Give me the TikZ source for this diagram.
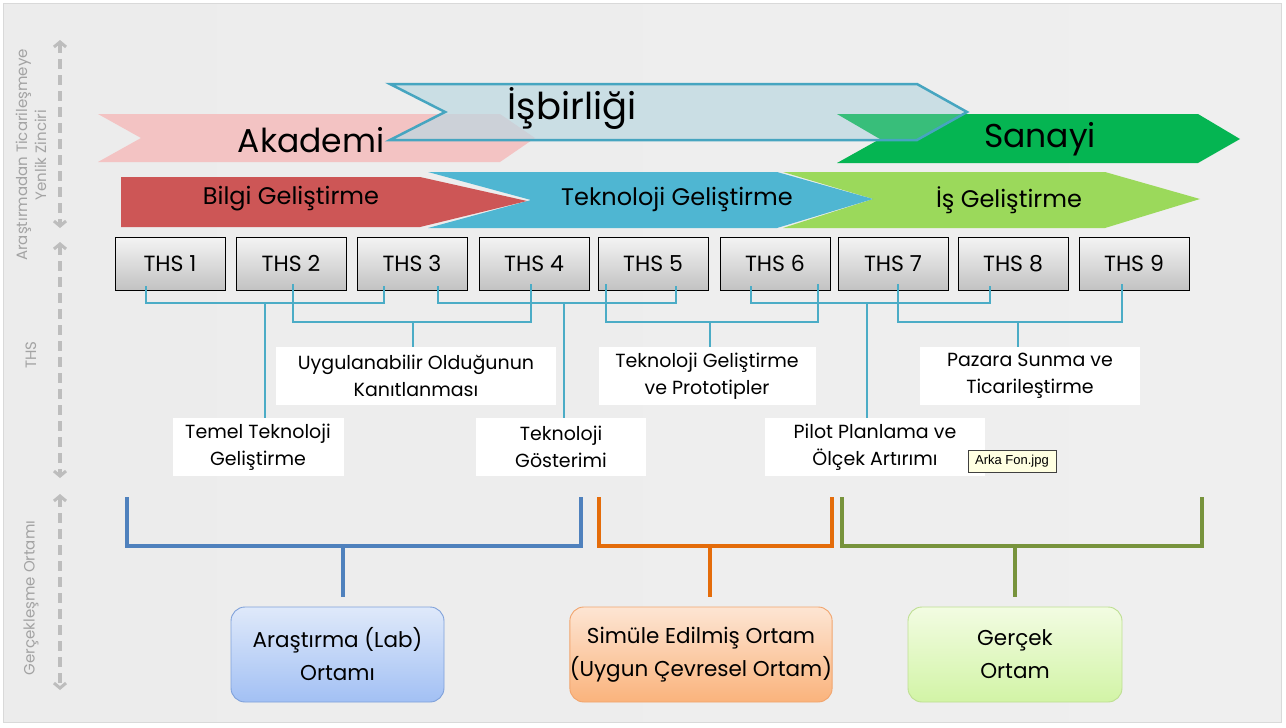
\documentclass[tikz,border=0pt]{standalone}
\usepackage{fontspec}
\setmainfont{Poppins}
\newfontfamily\tipfont{Liberation Sans}
\usepackage{xcolor}
\definecolor{bgLeft}{HTML}{ECECEC}
\definecolor{bgMid}{HTML}{F7F7F7}
\definecolor{bgRight}{HTML}{EFEFEF}
\definecolor{axisgray}{HTML}{BDBDBD}
\definecolor{axistext}{HTML}{A3A3A3}
\definecolor{akaFill}{HTML}{F3C3C3}
\definecolor{isbFill}{HTML}{BCD8E1}
\definecolor{isbLine}{HTML}{46A5C0}
\definecolor{sanFill}{HTML}{05B552}
\definecolor{bilgiFill}{HTML}{CD5656}
\definecolor{teknoFill}{HTML}{4FB6D2}
\definecolor{isFill}{HTML}{9BD95B}
\definecolor{thsTop}{HTML}{F4F4F4}
\definecolor{thsBot}{HTML}{C2C2C2}
\definecolor{teal}{HTML}{4BACC6}
\definecolor{labBlue}{HTML}{4F81BD}
\definecolor{simOrange}{HTML}{E46C0A}
\definecolor{realGreen}{HTML}{77933C}
\definecolor{labTop}{HTML}{DFE9FA}
\definecolor{labBot}{HTML}{A2C0F4}
\definecolor{labLine}{HTML}{7FA1DA}
\definecolor{simTop}{HTML}{FDE5D3}
\definecolor{simBot}{HTML}{FAB37C}
\definecolor{simLine}{HTML}{F1A56E}
\definecolor{realTop}{HTML}{F2FCE2}
\definecolor{realBot}{HTML}{D2F4A6}
\definecolor{realLine}{HTML}{BEDF92}
\definecolor{tipFill}{HTML}{FFFFE1}
\usepackage{tikz}
\usetikzlibrary{arrows.meta,positioning,calc}
\tikzset{
    ribbontext/.style={inner sep=0pt, text=black},
    bigtext/.style={ribbontext, font=\fontsize{33}{38}\selectfont},
    phasetext/.style={ribbontext, font=\fontsize{24}{28}\selectfont},
    thsbox/.style={draw=black, line width=0.9pt, top color=thsTop, bottom color=thsBot, minimum width=110, minimum height=53, inner sep=0pt, font=\fontsize{22}{26}\selectfont},
    stagelabel/.style={fill=white, align=center, inner sep=0pt, minimum height=58, font=\fontsize{19}{27}\selectfont},
    bracket/.style={draw=teal, line width=2pt},
    envline/.style={line width=4pt},
    envbox/.style={rounded corners=14pt, line width=0.9pt, align=center, minimum height=95, inner sep=0pt, font=\fontsize{21.5}{33}\selectfont},
    axisarrow/.style={{Straight Barb[length=5pt, width=12pt, line width=3pt]}-{Straight Barb[length=5pt, width=12pt, line width=3pt]}, axisgray, line width=3.5pt, dash pattern=on 10pt off 6pt},
    axislabel/.style={rotate=90, axistext, align=center, font=\fontsize{15}{19}\selectfont},
    tooltip/.style={draw=black!75, fill=tipFill, line width=0.6pt, inner sep=2pt, minimum width=88, minimum height=22, font=\tipfont\fontsize{13}{15}\selectfont}
}

\begin{document}
\begin{tikzpicture}[x=1pt, y=-1pt]
  \useasboundingbox (0,0) rectangle (1286,728);
  % Slide background
  \fill[white] (0,0) rectangle (1286,728);
  \shade[left color=bgLeft, middle color=bgMid, right color=bgRight] (3,3) rectangle (1281,722);
  \draw[black!15, line width=1pt] (3,3) rectangle (1281,722);

  % Left axis
  \coordinate (axA1) at (60,40);  \coordinate (axA2) at (60,228);
  \coordinate (axB1) at (60,242); \coordinate (axB2) at (60,478);
  \coordinate (axC1) at (60,494); \coordinate (axC2) at (60,690);
  \draw[axisarrow] (axA1) -- (axA2);
  \draw[axisarrow] (axB1) -- (axB2);
  \draw[axisarrow] (axC1) -- (axC2);
  \node[axislabel] (chain) at (31,155) {Araştırmadan Ticarileşmeye\\Yenlik Zinciri};
  \node[axislabel] (thsaxis) at (31,355) {THS};
  \node[axislabel] (envaxis) at (31,598) {Gerçekleşme Ortamı};

  % Top ribbons: Akademi, Sanayi, Isbirligi
  \fill[akaFill] (98,114) -- (500,114) -- (535,138) -- (500,162) -- (98,162) -- (141,138) -- cycle;
  \fill[sanFill] (837,114) -- (1198,114) -- (1240,139) -- (1198,163) -- (837,163) -- (880,139) -- cycle;
  \fill[isbFill, opacity=0.7] (390,84) -- (917,84) -- (967,112) -- (917,140) -- (390,140) -- (445,112) -- cycle;
  \begin{scope}
    \clip (390,84) -- (917,84) -- (967,112) -- (917,140) -- (390,140) -- (445,112) -- cycle;
    \fill[sanFill, opacity=0.6] (837,114) -- (1198,114) -- (1240,139) -- (1198,163) -- (837,163) -- (880,139) -- cycle;
  \end{scope}
  \draw[isbLine, line width=2.5pt, line join=miter]
    (390,84) -- (917,84) -- (967,112) -- (917,140) -- (390,140) -- (445,112) -- cycle;
  \node[bigtext] (akademi) at (311,140) {Akademi};
  \node[bigtext, font=\fontsize{37}{42}\selectfont] (isbirligi) at (572,108) {İşbirliği};
  \node[bigtext] (sanayi) at (1040,139) {Sanayi};

  % Development phases
  \fill[isFill] (783,172) -- (1105,172) -- (1200,199) -- (1105,228) -- (783,228) -- (873,199) -- cycle;
  \fill[teknoFill] (428,172) -- (777,172) -- (873,199) -- (777,228) -- (428,228) -- (531,200) -- cycle;
  \fill[bilgiFill] (121,177) -- (420,177) -- (527,201) -- (420,227) -- (121,227) -- cycle;
  \node[phasetext] (bilgi) at (291,199) {Bilgi Geliştirme};
  \node[phasetext] (tekno) at (677,199) {Teknoloji Geliştirme};
  \node[phasetext] (isgel) at (1009,200) {İş Geliştirme};

  % THS levels
  \node[thsbox] (ths1) at (170,263.5) {THS 1};
  \node[thsbox] (ths2) at (291,263.5) {THS 2};
  \node[thsbox] (ths3) at (412,263.5) {THS 3};
  \node[thsbox] (ths4) at (534,263.5) {THS 4};
  \node[thsbox] (ths5) at (653,263.5) {THS 5};
  \node[thsbox] (ths6) at (775,263.5) {THS 6};
  \node[thsbox] (ths7) at (893,263.5) {THS 7};
  \node[thsbox] (ths8) at (1013,263.5) {THS 8};
  \node[thsbox] (ths9) at (1134,263.5) {THS 9};

  % Stage labels
  \node[stagelabel, minimum width=280] (proof) at (416,376) {Uygulanabilir Olduğunun\\Kanıtlanması};
  \node[stagelabel, minimum width=217] (proto) at (707,376) {Teknoloji Geliştirme\\ve Prototipler};
  \node[stagelabel, minimum width=220] (market) at (1030,376) {Pazara Sunma ve\\Ticarileştirme};
  \node[stagelabel, minimum width=171] (basic) at (258,447) {Temel Teknoloji\\Geliştirme};
  \node[stagelabel, minimum width=170] (demo) at (561,447) {Teknoloji\\Gösterimi};
  \node[stagelabel, minimum width=220] (pilot) at (875,447) {Pilot Planlama ve\\Ölçek Artırımı};

  % THS brackets (upper row at 303, lower row at 322)
  \draw[bracket] ([xshift=-24,yshift=4]ths1.south) |- (265,303) -| ([xshift=-28,yshift=4]ths3.south);
  \draw[bracket] ([xshift=26,yshift=4]ths3.south) |- (564,303) -| ([xshift=23,yshift=4]ths5.south);
  \draw[bracket] ([xshift=-24,yshift=4]ths6.south) |- (867,303) -| ([xshift=-23,yshift=4]ths8.south);
  \draw[bracket] ([xshift=2,yshift=6]ths2.south) |- (413,322) -| ([xshift=-3,yshift=6]ths4.south);
  \draw[bracket] ([xshift=-47,yshift=6]ths5.south) |- (710,322) -| ([xshift=43,yshift=6]ths6.south);
  \draw[bracket] ([xshift=5,yshift=6]ths7.south) |- (1018,322) -| ([xshift=-12,yshift=6]ths9.south);
  \coordinate (s1) at (265,303); \coordinate (s2) at (413,322);
  \coordinate (s3) at (564,303); \coordinate (s4) at (710,322);
  \coordinate (s5) at (867,303); \coordinate (s6) at (1018,322);
  \draw[bracket] (s1) -- (s1 |- basic.north);
  \draw[bracket] (s2) -- (s2 |- proof.north);
  \draw[bracket] (s3) -- (s3 |- demo.north);
  \draw[bracket] (s4) -- (s4 |- proto.north);
  \draw[bracket] (s5) -- (s5 |- pilot.north);
  \draw[bracket] (s6) -- (s6 |- market.north);

  % Tooltip
  \node[tooltip] (tip) at (1012,461) {Arka Fon.jpg};

  % Environment boxes
  \node[envbox, minimum width=213, draw=labLine, top color=labTop, bottom color=labBot] (lab) at (337.5,654.5) {Araştırma (Lab)\\Ortamı};
  \node[envbox, minimum width=262, draw=simLine, top color=simTop, bottom color=simBot] (sim) at (701,654.5) {Simüle Edilmiş Ortam\\(Uygun Çevresel Ortam)};
  \node[envbox, minimum width=214, draw=realLine, top color=realTop, bottom color=realBot] (real) at (1015,654.5) {Gerçek\\Ortam};

  % Environment brackets
  \coordinate (labL) at (127,497);  \coordinate (labR) at (581,497);  \coordinate (labM) at (343,546);
  \coordinate (simL) at (599,497);  \coordinate (simR) at (832,497);  \coordinate (simM) at (710,546);
  \coordinate (realL) at (842,497); \coordinate (realR) at (1202,497); \coordinate (realM) at (1015,546);
  \draw[envline, labBlue] (labL) |- (labM) -| (labR);
  \draw[envline, simOrange] (simL) |- (simM) -| (simR);
  \draw[envline, realGreen] (realL) |- (realM) -| (realR);
  \draw[envline, labBlue, shorten >=10pt] (labM) -- (labM |- lab.north);
  \draw[envline, simOrange, shorten >=10pt] (simM) -- (simM |- sim.north);
  \draw[envline, realGreen, shorten >=10pt] (realM) -- (realM |- real.north);
\end{tikzpicture}
\end{document}
